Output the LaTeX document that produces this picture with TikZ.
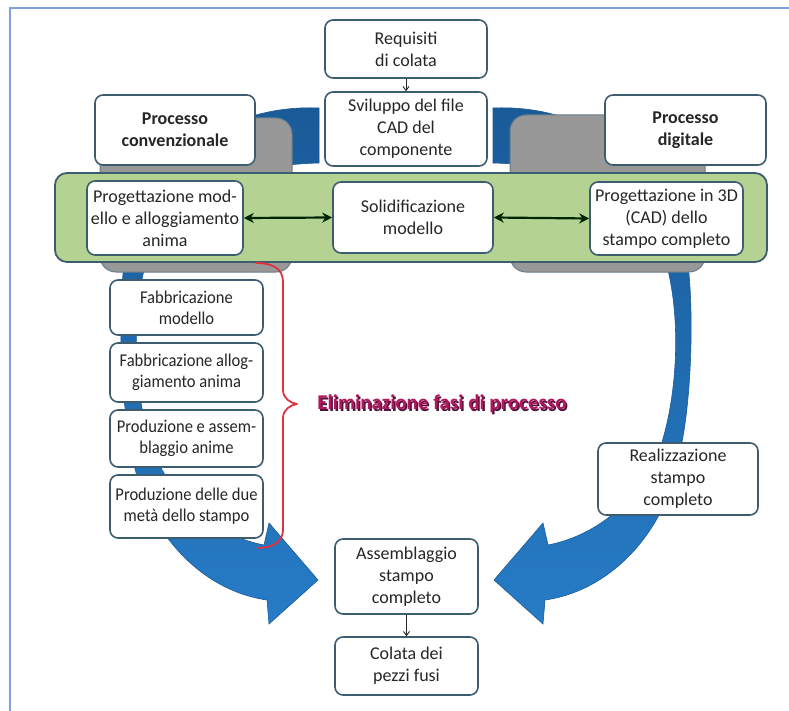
\documentclass[tikz,border=0pt]{standalone}
\usepackage{fontspec}
\setmainfont{Carlito}
\newfontfamily\narrowfont[FakeStretch=0.92]{Carlito}
\usetikzlibrary{arrows.meta}

\definecolor{framecol}{RGB}{128,160,222}
\definecolor{boxline}{RGB}{62,92,112}
\definecolor{txt}{RGB}{38,38,38}
\definecolor{bandgreen}{RGB}{180,210,145}
\definecolor{shadegray}{RGB}{152,152,152}
\definecolor{arrowblue}{RGB}{38,124,198}
\definecolor{arrowdark}{RGB}{26,90,152}
\definecolor{bracered}{RGB}{222,50,62}
\definecolor{elimcol}{RGB}{178,22,92}
\definecolor{elimshadow}{RGB}{80,20,60}

\begin{document}
\begin{tikzpicture}[x=1pt,y=-1pt,
  stepbox/.style={draw=boxline,line width=1.6pt,fill=white,rounded corners=8pt,
    align=center,text=txt,inner sep=2pt,font=\fontsize{18}{22}\selectfont},
  headbox/.style={stepbox,font=\fontsize{18}{22}\selectfont\bfseries},
  colbox/.style={stepbox,minimum width=153pt,font=\fontsize{18}{21}\selectfont\narrowfont},
  backplate/.style={draw=boxline!80,line width=1pt,fill=shadegray,rounded corners=16pt},
  band/.style={draw=boxline,line width=1.8pt,fill=bandgreen,rounded corners=12pt},
  cyclearrow/.style={top color=arrowdark,bottom color=arrowblue,draw=arrowdark,line width=0.6pt},
  dblarrow/.style={{Stealth[length=10pt,width=10pt]}-{Stealth[length=10pt,width=10pt]},line width=2.2pt,draw=black!85!green},
  smallarrow/.style={-{Straight Barb[length=4pt,width=6pt]},line width=0.9pt,draw=txt},
  brace/.style={draw=bracered,line width=1.8pt,line cap=round,line join=round}]

\useasboundingbox (0,0) rectangle (789,711);

% outer frame (top and left edges)
\draw[framecol,line width=1.5pt] (10,711) -- (10,8) -- (789,8);

% the two large curved arrows (right one, and its mirror image on the left)
\foreach \s in {1,-1}{
  \begin{scope}[shift={({(1-\s)*406},0)},xscale=\s]
    \path[cyclearrow] (493,108)
      .. controls (585,104) and (655,160) .. (680,225)
      .. controls (695,265) and (694,380) .. (682,442)
      .. controls (672,525) and (615,590) .. (545,600)
      -- (543,624) -- (494,580) -- (543,523) -- (548,545)
      .. controls (600,535) and (645,495) .. (662,442)
      .. controls (675,400) and (682,330) .. (668,270)
      .. controls (645,195) and (580,165) .. (493,163)
      -- cycle;
  \end{scope}
}

% grey plates behind the two process headers
\path[backplate] (100,118) rectangle (292,272);
\path[backplate] (510,115) rectangle (705,272);

% green band holding the design steps
\path[band] (55,173) rectangle (767,262);

% top chain
\node[stepbox,minimum width=162pt,minimum height=58pt] (req) at (406,49) {Requisiti\\di colata};
\node[stepbox,minimum width=162pt,minimum height=74pt] (svi) at (406,129) {Sviluppo del file\\CAD del\\componente};

% process headers
\node[headbox,minimum width=160pt,minimum height=70pt] (pconv) at (175,130) {Processo\\convenzionale};
\node[headbox,minimum width=161pt,minimum height=70pt] (pdig) at (685.5,130) {Processo\\digitale};

% design steps in the green band
\node[stepbox,minimum width=156pt,minimum height=74pt] (prog1) at (165,218) {Progettazione mod-\\ello e alloggiamento\\anima};
\node[stepbox,minimum width=160pt,minimum height=71pt] (solid) at (413,217.5) {Solidificazione\\modello};
\node[stepbox,minimum width=153pt,minimum height=73pt] (prog3) at (666.5,218.5) {Progettazione in 3D\\(CAD) dello\\stampo completo};

% conventional route steps
\node[colbox,minimum height=55pt] (fab1) at (186.5,307.5) {Fabbricazione\\modello};
\node[colbox,minimum height=59pt] (fab2) at (186.5,372.5) {Fabbricazione allog-\\giamento anima};
\node[colbox,minimum height=57pt] (prod1) at (186.5,438.5) {Produzione e assem-\\blaggio anime};
\node[colbox,minimum height=63pt] (prod2) at (186.5,506.5) {Produzione delle due\\metà dello stampo};

% digital route step
\node[stepbox,minimum width=160pt,minimum height=72pt] (real) at (678,479) {Realizzazione\\stampo\\completo};

% final steps
\node[stepbox,minimum width=143pt,minimum height=75pt] (ass) at (406.5,576.5) {Assemblaggio\\stampo\\completo};
\node[stepbox,minimum width=143pt,minimum height=58pt] (col) at (406.5,666) {Colata dei\\pezzi fusi};

% connectors
\draw[smallarrow] (req.south) -- (svi.north);
\draw[smallarrow] (ass.south) -- (col.north);
\draw[dblarrow] (prog1.east) -- (solid.west);
\draw[dblarrow] (solid.east) -- (prog3.west);

% brace grouping the removed steps
\coordinate (bracetop) at (256,263);
\coordinate (bracetip) at (297,404);
\coordinate (bracebot) at (258,548);
\draw[brace] (bracetop) .. controls (272,263) and (283,268) .. (283,282)
  -- (283,390) .. controls (283,398) and (290,403) .. (bracetip)
  .. controls (290,405) and (283,410) .. (283,418)
  -- (283,530) .. controls (283,542) and (272,548) .. (bracebot);

\node[font=\fontsize{21}{24}\selectfont\bfseries,text=elimshadow] at (443.5,405.5) {Eliminazione fasi di processo};
\node[font=\fontsize{21}{24}\selectfont\bfseries,text=elimcol] (elim) at (442,404) {Eliminazione fasi di processo};

\end{tikzpicture}
\end{document}
